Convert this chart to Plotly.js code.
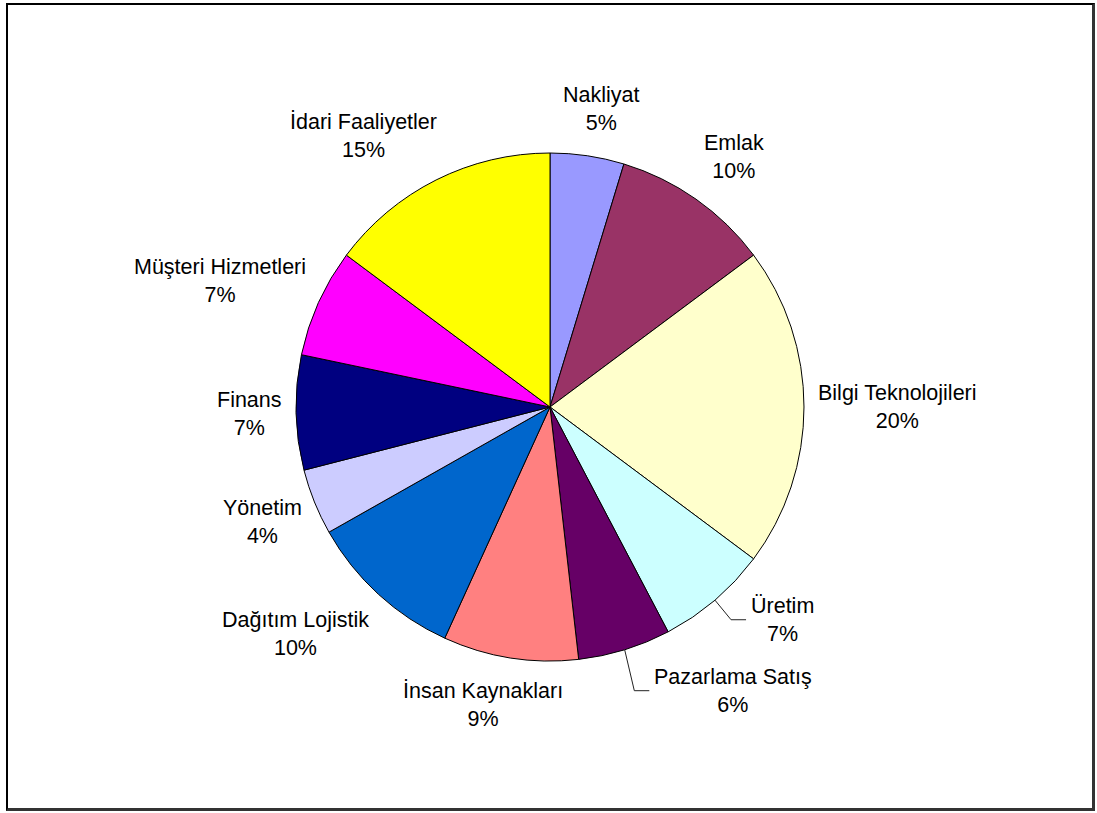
<!DOCTYPE html>
<html>
<head>
<meta charset="utf-8">
<script src="https://cdn.plot.ly/plotly-3.0.1.min.js"></script>
<style>
  html, body { margin: 0; padding: 0; background: #fff; overflow: hidden; }
  #chart { position: absolute; left: 0; top: 0; width: 1097px; height: 813px; }
  #frame { position: absolute; left: 6px; top: 3px; width: 1089px; height: 808px;
           box-sizing: border-box; border: 2px solid #000; border-right: 3px solid #333; border-bottom: 3px solid #333;
           pointer-events: none; }
</style>
</head>
<body>
<div id="chart"></div>
<div id="frame"></div>
<script>
// ---- data ----
const categories = ["Nakliyat", "Emlak", "Bilgi Teknolojileri", "Üretim", "Pazarlama Satış",
                    "İnsan Kaynakları", "Dağıtım Lojistik", "Yönetim", "Finans",
                    "Müşteri Hizmetleri", "İdari Faaliyetler"];
const values = [4.7, 10.1, 20.4, 7.1, 5.9, 8.6, 10.0, 4.2, 7.3, 6.9, 14.8];
const colors = ["#9999FF", "#993366", "#FFFFCC", "#CCFFFF", "#660066",
                "#FF8080", "#0066CC", "#CCCCFF", "#000080", "#FF00FF", "#FFFF00"];

// ---- layout settings ----
const W = 1097, H = 813;
const cx = 550, cy = 407, R = 254;
const FONT = "Liberation Sans, Arial, sans-serif";
const FS = 21.5;
const gapX = 14, gapY = 26;          // label distance beyond the pie edge
// labels that were dragged away from their default spot (drawn with leader lines)
const labelNudge = { "Üretim": [27, -21], "Pazarlama Satış": [58, -5] };

const total = values.reduce((s, v) => s + v, 0);
const ctx = document.createElement("canvas").getContext("2d");
ctx.font = FS + "px 'Liberation Sans'";

const annotations = [];
const shapes = [];
let cum = 0;
categories.forEach((name, i) => {
  const frac = values[i] / total;
  const mid = (cum + frac / 2) * 2 * Math.PI;   // clockwise from 12 o'clock
  cum += frac;
  const ux = Math.sin(mid), uy = -Math.cos(mid);
  const pctText = Math.round(frac * 100) + "%";
  const halfW = Math.max(ctx.measureText(name).width, ctx.measureText(pctText).width) / 2;
  const halfH = FS * 0.98;
  const fx = Math.sign(ux) * Math.min(1, 2 * Math.abs(ux));
  const fy = Math.sign(uy) * Math.min(1, 1.3 * Math.abs(uy));
  let lx = cx + ux * (R + gapX) + halfW * fx;
  let ly = cy + uy * (R + gapY) + halfH * fy;
  const nudge = labelNudge[name];
  if (nudge) {
    lx += nudge[0]; ly += nudge[1];
    const ex = cx + ux * R, ey = cy + uy * R;
    const endX = lx - halfW - 5;
    const kneeX = endX - 15;
    shapes.push({
      type: "path", xref: "paper", yref: "paper",
      path: `M ${ex / W} ${1 - ey / H} L ${kneeX / W} ${1 - ly / H} L ${endX / W} ${1 - ly / H}`,
      line: { color: "#222", width: 1 }
    });
  }
  annotations.push({
    xref: "paper", yref: "paper", x: lx / W, y: 1 - ly / H,
    xanchor: "center", yanchor: "middle", align: "center", showarrow: false,
    text: name + "<br>" + pctText,
    font: { family: FONT, size: FS, color: "#000" }
  });
});

const trace = {
  type: "pie",
  labels: categories,
  values: values,
  sort: false,
  direction: "clockwise",
  rotation: 0,
  marker: { colors: colors, line: { color: "#000", width: 1 } },
  textinfo: "none",
  hoverinfo: "label+percent",
  domain: { x: [(cx - R) / W, (cx + R) / W], y: [(H - cy - R) / H, (H - cy + R) / H] }
};

const layout = {
  width: W, height: H,
  margin: { l: 0, r: 0, t: 0, b: 0 },
  paper_bgcolor: "#fff",
  showlegend: false,
  font: { family: FONT, color: "#000" },
  annotations: annotations,
  shapes: shapes
};

Plotly.newPlot("chart", [trace], layout, { staticPlot: true });
</script>
</body>
</html>
